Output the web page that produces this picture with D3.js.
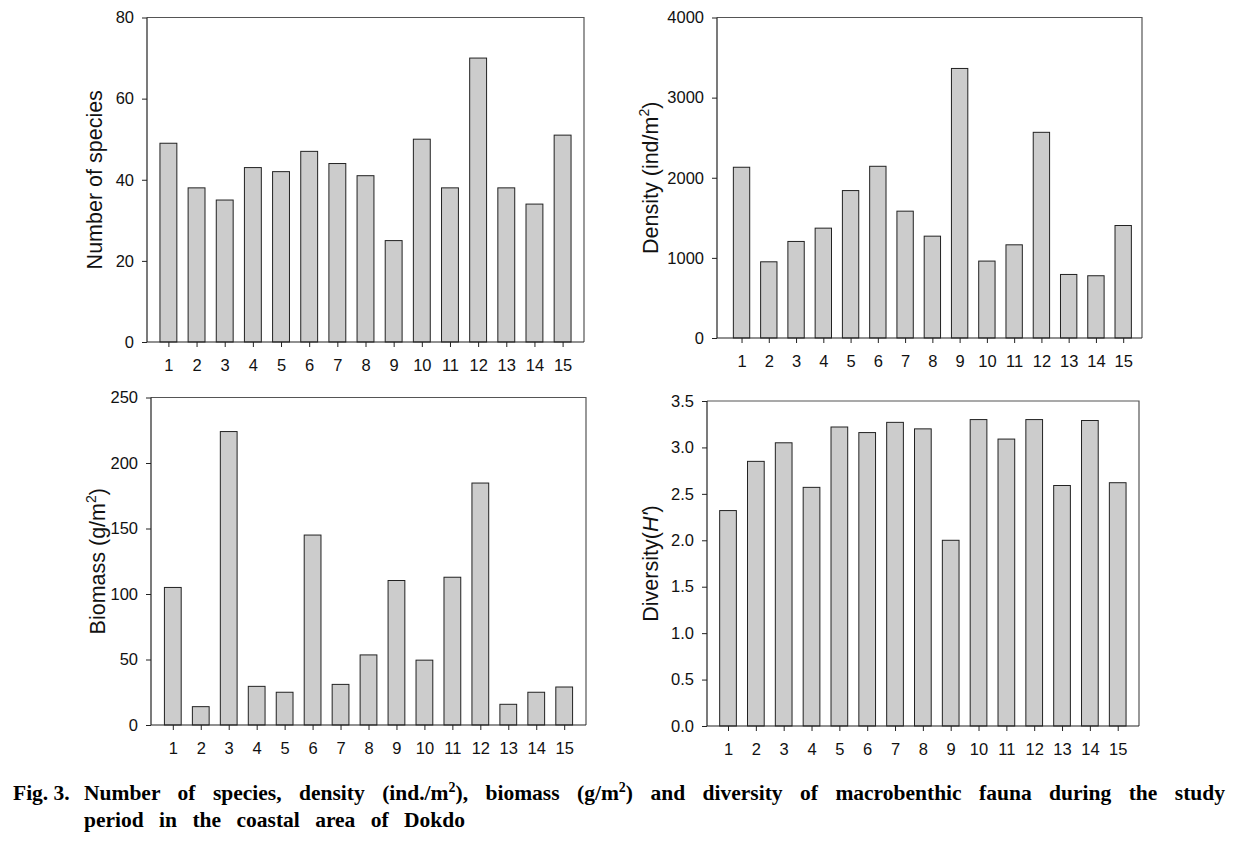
<!DOCTYPE html>
<html><head><meta charset="utf-8">
<script src="https://cdn.jsdelivr.net/npm/d3@7"></script>
<style>body{margin:0;background:#fff} svg{display:block}</style>
</head><body>
<svg id="chart" width="1246" height="844"></svg>
<script>
// ---- data ----
const stations = [1,2,3,4,5,6,7,8,9,10,11,12,13,14,15];
const speciesCounts = [49,38,35,43,42,47,44,41,25,50,38,70,38,34,51];
const densityValues = [2131,951,1205,1371,1840,2143,1583,1271,3364,960,1163,2567,793,777,1404];
const biomassValues = [105,14,224,29.5,25,145,31,53.5,110.3,49.5,112.8,184.7,15.8,25,29];
const diversityValues = [2.32,2.85,3.05,2.57,3.22,3.16,3.27,3.20,2.00,3.30,3.09,3.30,2.59,3.29,2.62];
const speciesTicks = [0,20,40,60,80];
const densityTicks = [0,1000,2000,3000,4000];
const biomassTicks = [0,50,100,150,200,250];
const diversityTicks = [0,0.5,1.0,1.5,2.0,2.5,3.0,3.5];

// ---- layout ----
const panels = [
  {values: speciesCounts, ticks: speciesTicks, fmt: d3.format("d"),
   left:147, right:584, top:17.5, bottom:342, xd:[0.24,15.76], labelX:102,
   label: [{t:"Number of species"}]},
  {values: densityValues, ticks: densityTicks, fmt: d3.format("d"),
   left:717, right:1142, top:17.5, bottom:338, xd:[0.1,15.69], labelX:658,
   label: [{t:"Density (ind/m"},{t:"2",sup:true},{t:")",down:true}]},
  {values: biomassValues, ticks: biomassTicks, fmt: d3.format("d"),
   left:151, right:586, top:397.5, bottom:725, xd:[0.22,15.78], labelX:105,
   label: [{t:"Biomass (g/m"},{t:"2",sup:true},{t:")",down:true}]},
  {values: diversityValues, ticks: diversityTicks, fmt: d3.format(".1f"),
   left:707, right:1139, top:401, bottom:726, xd:[0.245,15.765], labelX:658,
   label: [{t:"Diversity("},{t:"H'",it:true},{t:")"}]}
];

const svg = d3.select("#chart");
const sans = "Arial, 'Liberation Sans', sans-serif";

panels.forEach(p => {
  const x = d3.scaleLinear().domain(p.xd).range([p.left, p.right]);
  const y = d3.scaleLinear().domain([0, p.ticks[p.ticks.length-1]]).range([p.bottom, p.top]);
  const step = x(2) - x(1);
  const bw = step * 0.6;
  const g = svg.append("g");

  g.append("path")
    .attr("d", `M${p.left},${p.top}H${p.right}V${p.bottom}`)
    .attr("fill","none").attr("stroke","#555").attr("stroke-width",1.2);

  g.selectAll("rect.bar").data(p.values).join("rect")
    .attr("class","bar")
    .attr("x", (d,i) => x(stations[i]) - bw/2)
    .attr("width", bw)
    .attr("y", d => y(d))
    .attr("height", d => y(0) - y(d))
    .attr("fill","#cccccc").attr("stroke","#222").attr("stroke-width",1);

  const ya = g.append("g").attr("transform",`translate(${p.left},0)`)
    .call(d3.axisLeft(y).tickValues(p.ticks).tickFormat(p.fmt).tickSize(5).tickPadding(8).tickSizeOuter(0));
  const xa = g.append("g").attr("transform",`translate(0,${p.bottom})`)
    .call(d3.axisBottom(x).tickValues(stations).tickFormat(d3.format("d")).tickSize(5).tickPadding(12).tickSizeOuter(0));
  [ya, xa].forEach(a => {
    a.select(".domain").attr("stroke","#222").attr("stroke-width",1.2);
    a.selectAll(".tick line").attr("stroke","#222");
    a.selectAll(".tick text").attr("fill","#111").style("font-family",sans).style("font-size","16.5px");
  });
  xa.select(".domain").attr("d", `M${p.left},0H${p.right}`);
  ya.select(".domain").attr("d", `M0,${p.top}V${p.bottom}`);

  const cy = (p.top + p.bottom)/2;
  const lt = g.append("text")
    .attr("transform",`translate(${p.labelX},${cy}) rotate(-90)`)
    .attr("text-anchor","middle")
    .style("font-family",sans).style("font-size","21.5px").attr("fill","#111");
  p.label.forEach(s => {
    const ts = lt.append("tspan").text(s.t);
    if (s.sup) ts.attr("dy",-9).style("font-size","14px");
    if (s.down) ts.attr("dy",9);
    if (s.it) ts.style("font-style","italic");
  });
});

// ---- caption ----
const serif = "'Liberation Serif', 'Times New Roman', serif";
function captionLine(parts, x0, x1, yb) {
  const t = svg.append("text").attr("x", x0).attr("y", yb)
    .style("font-family", serif).style("font-weight","bold").style("font-size","21.5px").attr("fill","#000");
  parts.forEach(s => {
    const ts = t.append("tspan").text(s.t);
    if (s.sup) ts.attr("dy",-8).style("font-size","14px");
    if (s.down) ts.attr("dy",8);
  });
  if (x1 != null) {
    const full = parts.map(s => s.t).join("");
    const nSpaces = (full.match(/ /g) || []).length;
    const w = t.node().getComputedTextLength();
    t.style("word-spacing", ((x1 - x0 - w) / nSpaces) + "px");
  }
}
captionLine([{t:"Fig. 3."}], 13, null, 800);
captionLine([
  {t:"Number of species, density (ind./m"},{t:"2",sup:true},
  {t:"), biomass (g/m",down:true},{t:"2",sup:true},
  {t:") and diversity of macrobenthic fauna during the study",down:true}
], 84, 1225, 800);
captionLine([{t:"period in the coastal area of Dokdo"}], 84, 465, 827);
</script>
</body></html>
